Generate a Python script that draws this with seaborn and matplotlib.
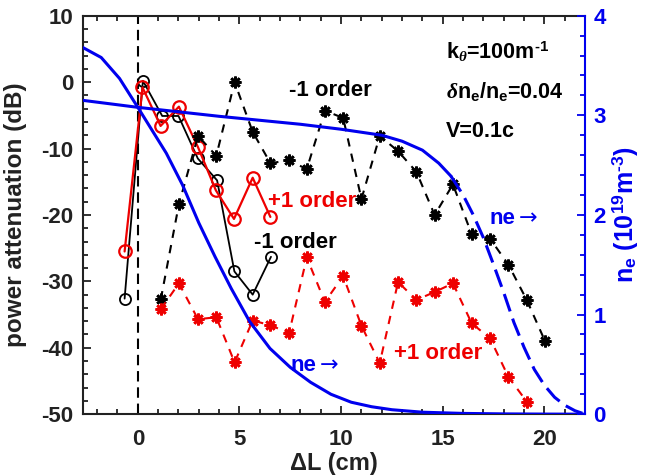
import matplotlib
matplotlib.use("Agg")
import matplotlib.pyplot as plt
from matplotlib.ticker import MultipleLocator
from matplotlib.transforms import offset_copy
import pandas as pd
import seaborn as sns

# ---- power attenuation vs. distance (dB) ----
circ_x = [-0.65, 0.25, 1.2, 2.0, 2.95, 3.9, 4.75, 5.65, 6.55]
minus1_circ = [-32.6, 0.2, -5.1, -5.1, -11.5, -14.8, -28.5, -32.0, -26.3]
plus1_circ_x = [-0.65, 0.23, 1.12, 2.02, 2.96, 3.84, 4.73, 5.65, 6.52]
plus1_circ = [-25.5, -0.8, -6.6, -3.7, -9.8, -16.3, -20.6, -14.4, -20.3]

star_x = [1.13, 2.02, 2.96, 3.86, 4.76, 5.65, 6.52, 7.44, 8.31, 9.2, 10.1,
          11.0, 11.9, 12.8, 13.7, 14.6, 15.5, 16.42, 17.33, 18.23, 19.13, 20.03]
minus1_star = [-32.7, -18.4, -8.1, -11.1, 0.0, -7.5, -12.2, -11.8, -13.1, -4.3,
               -5.4, -17.6, -8.1, -10.4, -13.5, -20.0, -15.4, -22.9, -23.6,
               -27.5, -32.8, -39.0]
plus1_star_x = star_x[:21]
plus1_star = [-34.2, -30.3, -35.7, -35.4, -42.2, -35.9, -36.6, -37.8, -26.4,
              -33.1, -29.2, -36.7, -42.3, -30.1, -32.8, -31.6, -30.3, -36.3,
              -38.6, -44.4, -48.1]

# ---- density profiles (10^19 m^-3) ----
ne_steep_x = [-2.7, -1.8, -0.9, 0.0, 0.7, 1.4, 2.2, 3.0, 3.8, 4.6, 5.5, 6.5,
              7.5, 8.5, 9.5, 10.5, 11.5, 12.5, 14.0, 16.0, 18.0, 20.0, 22.0]
ne_steep = [3.68, 3.58, 3.37, 3.08, 2.85, 2.62, 2.30, 1.92, 1.58, 1.26, 0.93,
            0.66, 0.47, 0.32, 0.20, 0.12, 0.075, 0.045, 0.02, 0.008, 0.003,
            0.001, 0.0]
ne_flat_x = [-2.7, 0.0, 4.0, 8.0, 10.0, 12.0, 13.0, 14.0, 14.8, 15.4, 16.0,
             16.5, 17.0, 17.5, 18.0, 18.5, 19.0, 19.5, 20.0, 20.5, 21.0, 21.5,
             22.0]
ne_flat = [3.15, 3.08, 2.99, 2.91, 2.86, 2.80, 2.74, 2.65, 2.52, 2.39, 2.20,
           2.00, 1.77, 1.50, 1.22, 0.92, 0.67, 0.45, 0.29, 0.17, 0.09, 0.035,
           0.0]
ne_flat_solid_end = 10  # points up to x=15.4 drawn solid, the rest dashed

sns.set_theme(style="ticks")
plt.rcParams["font.family"] = ["Liberation Sans", "DejaVu Sans"]
plt.rcParams["font.weight"] = "bold"
plt.rcParams["axes.labelweight"] = "bold"
plt.rcParams["axes.unicode_minus"] = False
plt.rcParams["mathtext.fontset"] = "custom"
plt.rcParams["mathtext.rm"] = "Liberation Sans:bold"
plt.rcParams["mathtext.bf"] = "Liberation Sans:bold"
plt.rcParams["mathtext.it"] = "Liberation Serif:italic"

DARK = "#222222"
BLUE = "#0000ee"
RED = "#ee0000"

fig = plt.figure(figsize=(6.53, 4.75), dpi=100)
ax = fig.add_axes([0.127, 0.128, 0.769, 0.839])
ax2 = ax.twinx()

def series(x, y):
    return pd.DataFrame({"x": x, "y": y})

# open-circle series
sns.lineplot(data=series(circ_x, minus1_circ), x="x", y="y", ax=ax, sort=False,
             estimator=None, color="black", lw=1.3, marker="o", ms=8,
             markerfacecolor="none", markeredgecolor="black", mew=1.3)
sns.lineplot(data=series(plus1_circ_x, plus1_circ), x="x", y="y", ax=ax,
             sort=False, estimator=None, color=RED, lw=1.6, marker="o", ms=9,
             markerfacecolor="none", markeredgecolor=RED, mew=1.6)

# asterisk series with dashed connectors
sns.lineplot(data=series(star_x, minus1_star), x="x", y="y", ax=ax, sort=False,
             estimator=None, color="black", lw=1.5, linestyle=(0, (4, 3.5)),
             marker=(8, 2, 0), ms=8.5, markeredgecolor="black", mew=1.9)
sns.lineplot(data=series(plus1_star_x, plus1_star), x="x", y="y", ax=ax,
             sort=False, estimator=None, color=RED, lw=1.5,
             linestyle=(0, (4, 3.5)), marker=(8, 2, 0), ms=8.5,
             markeredgecolor=RED, mew=1.9)

ax.axvline(0, color="black", lw=1.5, linestyle=(0, (5, 2.8)), zorder=1)

# density profiles on the right axis
sns.lineplot(data=series(ne_steep_x, ne_steep), x="x", y="y", ax=ax2,
             sort=False, estimator=None, color=BLUE, lw=2.2)
sns.lineplot(data=series(ne_flat_x[:ne_flat_solid_end],
                         ne_flat[:ne_flat_solid_end]),
             x="x", y="y", ax=ax2, sort=False, estimator=None, color=BLUE,
             lw=2.2)
sns.lineplot(data=series(ne_flat_x[ne_flat_solid_end - 1:],
                         ne_flat[ne_flat_solid_end - 1:]),
             x="x", y="y", ax=ax2, sort=False, estimator=None, color=BLUE,
             lw=2.2, linestyle=(0, (6, 2.5)))

# limits and ticks
ax.set_xlim(-2.7, 22.0)
ax.set_ylim(-50, 10)
ax2.set_ylim(0, 4)
ax.xaxis.set_major_locator(MultipleLocator(5))
ax.xaxis.set_minor_locator(MultipleLocator(1))
ax.yaxis.set_major_locator(MultipleLocator(10))
ax.yaxis.set_minor_locator(MultipleLocator(2))
ax2.yaxis.set_major_locator(MultipleLocator(1))
ax2.yaxis.set_minor_locator(MultipleLocator(0.2))

for a in (ax, ax2):
    for s in a.spines.values():
        s.set_linewidth(1.5)
        s.set_color(DARK)
ax.spines["right"].set_visible(False)
for side in ("left", "top", "bottom"):
    ax2.spines[side].set_visible(False)
ax2.spines["right"].set_color(BLUE)

ax.tick_params(which="both", direction="in", top=True, right=False,
               color=DARK, width=1.3, labelsize=16, labelcolor=DARK)
ax.tick_params(which="major", length=6)
ax.tick_params(which="minor", length=3.5)
ax.tick_params(axis="y", pad=7)
ax.tick_params(axis="x", pad=11)
ax2.tick_params(which="both", direction="in", color=BLUE, width=1.3,
                labelsize=16, labelcolor=BLUE, pad=6)
ax2.tick_params(which="major", length=6)
ax2.tick_params(which="minor", length=3.5)
for lab in ax.get_xticklabels() + ax.get_yticklabels() + ax2.get_yticklabels():
    lab.set_fontweight("bold")

ax.set_xlabel("\u0394L (cm)", fontsize=17, color=DARK)
ax.set_ylabel("power attenuation (dB)", fontsize=17.5, color=DARK)
ax2.set_ylabel(r"n$_{\mathbf{e}}$ (10$^{\mathbf{19}}$m$^{\text{-3}}$)",
               fontsize=18, color=BLUE, rotation=90)
ax.xaxis.set_label_coords(0.5, -0.095)
ax.yaxis.set_label_coords(-0.112, 0.5)
ax2.yaxis.set_label_coords(1.05, 0.5)

# series labels
tk = dict(fontsize=16, fontweight="bold", ha="left", va="center")
ax.text(7.42, -1.2, "-1 order", color="black", **tk)
ax.text(6.38, -18.0, "+1 order", color=RED, **tk)
ax.text(5.7, -24.2, "-1 order", color="black", **tk)
ax.text(12.6, -40.8, "+1 order", color=RED, **tk)

for nx, ny in ((17.28, -20.5), (7.52, -42.6)):
    ax.text(nx, ny, "ne", color=BLUE, **tk)
    arrow_tr = offset_copy(ax.transData, fig=fig, x=21, y=0, units="points")
    ax.text(nx, ny, "\u2192", color=BLUE, fontsize=16, fontweight="normal",
            ha="left", va="center", transform=arrow_tr,
            family=["DejaVu Sans"])

# simulation parameters
pk = dict(fontsize=15.5, fontweight="bold", ha="left", va="center",
          color="black")
ax.text(15.15, 4.6, r"k$_{\theta}$=100m$^{\text{-1}}$", **pk)
ax.text(15.15, -1.45, r"$\delta$n$_{\mathbf{e}}$/n$_{\mathbf{e}}$=0.04", **pk)
ax.text(15.15, -7.5, "V=0.1c", **pk)

fig.savefig("out.png", dpi=100)
